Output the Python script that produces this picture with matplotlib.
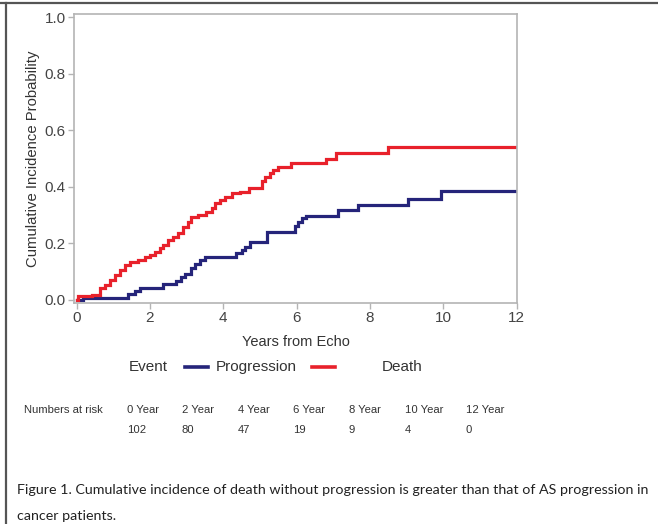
import matplotlib
matplotlib.use("Agg")
import matplotlib.pyplot as plt
from matplotlib.lines import Line2D

plt.rcParams["font.family"] = ["Liberation Sans", "DejaVu Sans"]

# Cumulative incidence of death without progression (step function, post)
death_t = [0, 0.05, 0.41, 0.64, 0.77, 0.91, 1.04, 1.18, 1.32, 1.45, 1.67, 1.86,
           2.0, 2.13, 2.27, 2.36, 2.5, 2.63, 2.77, 2.9, 3.04, 3.13, 3.31, 3.54,
           3.68, 3.77, 3.9, 4.05, 4.25, 4.45, 4.7, 5.05, 5.15, 5.27, 5.36, 5.49,
           5.86, 6.81, 7.08, 8.49, 12.0]
death_p = [0, 0.012, 0.018, 0.041, 0.053, 0.07, 0.088, 0.106, 0.124, 0.135,
           0.141, 0.152, 0.159, 0.171, 0.183, 0.194, 0.212, 0.224, 0.236, 0.259,
           0.277, 0.294, 0.30, 0.312, 0.324, 0.342, 0.354, 0.365, 0.377, 0.383,
           0.395, 0.42, 0.436, 0.448, 0.459, 0.469, 0.483, 0.50, 0.518, 0.539,
           0.539]

# Cumulative incidence of AS progression
prog_t = [0, 0.18, 1.41, 1.59, 1.73, 2.36, 2.72, 2.86, 2.95, 3.13, 3.22, 3.36,
          3.5, 4.36, 4.5, 4.59, 4.72, 5.18, 5.95, 6.05, 6.15, 6.27, 7.13, 7.68,
          9.04, 9.95, 12.0]
prog_p = [0, 0.008, 0.02, 0.033, 0.041, 0.055, 0.065, 0.08, 0.092, 0.112,
          0.127, 0.141, 0.153, 0.165, 0.177, 0.188, 0.206, 0.241, 0.262, 0.277,
          0.289, 0.298, 0.318, 0.336, 0.356, 0.385, 0.385]

x_ticks = [0, 2, 4, 6, 8, 10, 12]
y_ticks = [0.0, 0.2, 0.4, 0.6, 0.8, 1.0]

risk_labels = ["0 Year", "2 Year", "4 Year", "6 Year", "8 Year", "10 Year", "12 Year"]
risk_counts = [102, 80, 47, 19, 9, 4, 0]

caption_lines = [
    "Figure 1. Cumulative incidence of death without progression is greater than that of AS progression in",
    "cancer patients.",
]

BLUE = "#25247a"
RED = "#e8212b"
SPINE = "#b4b4b4"
TXT = "#333333"

W, H = 658, 524
fig = plt.figure(figsize=(W / 100, H / 100), dpi=100)
fig.patch.set_facecolor("white")

ax = fig.add_axes([74 / W, 1 - 302.7 / H, (517.3 - 74) / W, (302.7 - 14.3) / H])
ax.step(prog_t, prog_p, where="post", color=BLUE, lw=2.3, solid_joinstyle="miter")
ax.step(death_t, death_p, where="post", color=RED, lw=2.3, solid_joinstyle="miter")

ax.set_xlim(-0.07, 12.02)
ax.set_ylim(-0.01, 1.01)
ax.set_xticks(x_ticks)
ax.set_yticks(y_ticks)
ax.set_xticklabels([str(t) for t in x_ticks])
ax.set_yticklabels([f"{t:.1f}" for t in y_ticks])
for s in ax.spines.values():
    s.set_color(SPINE)
    s.set_linewidth(1.2)
ax.tick_params(direction="out", length=4, width=1, color=SPINE,
               labelsize=11, labelcolor="#444444", pad=2)
ax.set_xlabel("Years from Echo", fontsize=10.5, color=TXT, labelpad=7)
ax.set_ylabel("Cumulative Incidence Probability", fontsize=10.7, color=TXT, labelpad=3)


def fx(px):
    return px / W


def fy(py):
    return 1 - py / H


# Legend row
ly = 367
fig.text(fx(129), fy(ly), "Event", fontsize=11, color=TXT, va="center", ha="left")
fig.add_artist(Line2D([fx(185), fx(208)], [fy(ly), fy(ly)], color=BLUE, lw=2.6,
                      transform=fig.transFigure))
fig.text(fx(216), fy(ly), "Progression", fontsize=11, color=TXT, va="center", ha="left")
fig.add_artist(Line2D([fx(312), fx(335)], [fy(ly), fy(ly)], color=RED, lw=2.6,
                      transform=fig.transFigure))
fig.text(fx(382), fy(ly), "Death", fontsize=11, color=TXT, va="center", ha="left")

# Numbers at risk table
risk_x = [127, 182, 238, 293, 349, 405, 466]
fig.text(fx(24), fy(410), "Numbers at risk", fontsize=8.1, color=TXT, va="center", ha="left")
for x, lab, n in zip(risk_x, risk_labels, risk_counts):
    fig.text(fx(x), fy(410), lab, fontsize=8.1, color=TXT, va="center", ha="left")
    fig.text(fx(x), fy(430), str(n), fontsize=8.1, color=TXT, va="center", ha="left")

# Caption
fig.text(fx(17), fy(490), caption_lines[0], fontsize=10.3, color="#222222",
         va="center", ha="left", family=["Lato", "DejaVu Sans"])
fig.text(fx(17), fy(516), caption_lines[1], fontsize=10.3, color="#222222",
         va="center", ha="left", family=["Lato", "DejaVu Sans"])

# Page frame lines
fig.add_artist(Line2D([0, 1], [fy(3), fy(3)], color="#555555", lw=1.6,
                      transform=fig.transFigure))
fig.add_artist(Line2D([fx(6), fx(6)], [0, fy(3)], color="#555555", lw=1.6,
                      transform=fig.transFigure))

fig.savefig("out.png", dpi=100, facecolor="white")
